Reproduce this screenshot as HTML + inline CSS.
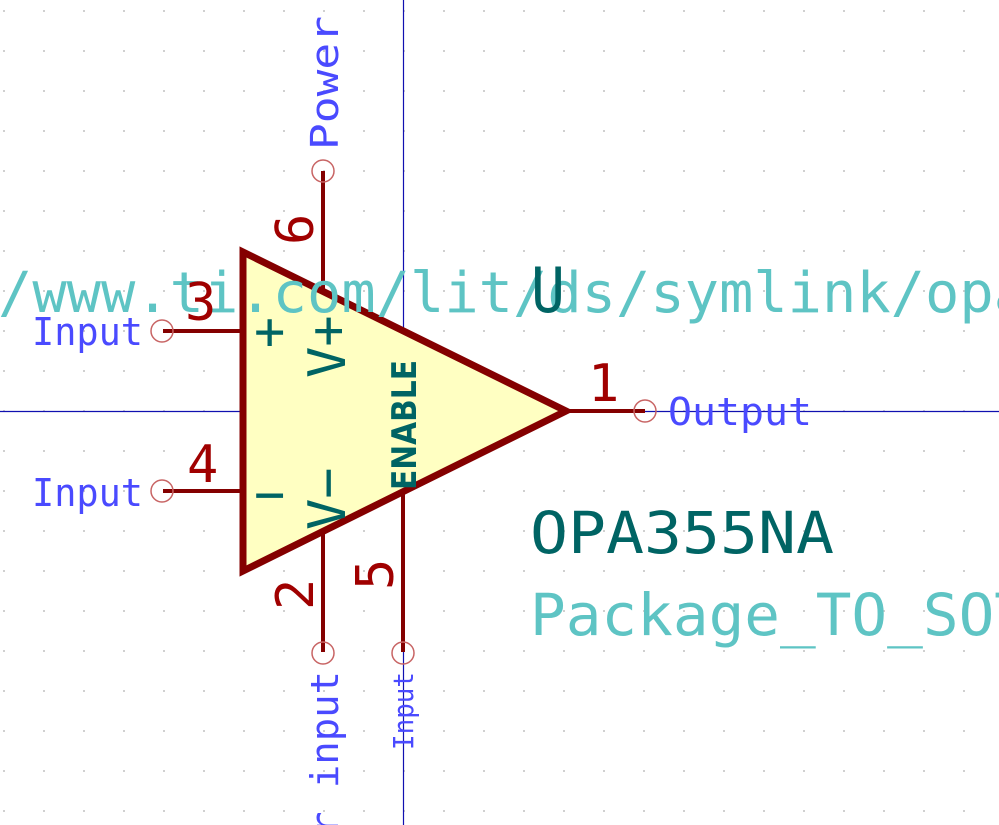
<!DOCTYPE html>
<html><head><meta charset="utf-8"><style>html,body{margin:0;padding:0;background:#fff}svg{display:block}</style></head>
<body>
<svg width="999" height="825" viewBox="0 0 999 825" xmlns="http://www.w3.org/2000/svg">
<defs><pattern id="g" x="3" y="10" width="40" height="40" patternUnits="userSpaceOnUse"><rect x="0" y="0" width="2" height="2" fill="#d0d0d0"/></pattern></defs>
<rect width="999" height="825" fill="url(#g)"/>
<line x1="403.5" y1="0" x2="403.5" y2="825" stroke="#1010b0" stroke-width="1.2"/>
<line x1="0" y1="411.5" x2="999" y2="411.5" stroke="#1010b0" stroke-width="1.2"/>
<polygon points="243,252 243,571 566,411" fill="#ffffc2" stroke="#840000" stroke-width="7" stroke-linejoin="miter"/>
<g stroke="#840000" stroke-width="4" fill="none">
<line x1="163" y1="331" x2="243" y2="331"/>
<line x1="163" y1="491" x2="243" y2="491"/>
<line x1="566" y1="411" x2="645" y2="411"/>
<line x1="323" y1="171" x2="323" y2="292"/>
<line x1="323" y1="531" x2="323" y2="652"/>
<line x1="403" y1="491" x2="403" y2="652"/>
</g>
<g stroke="#c86464" stroke-width="1.5" fill="none">
<circle cx="162" cy="331" r="11"/><circle cx="162" cy="491" r="11"/>
<circle cx="645" cy="411" r="11"/><circle cx="323" cy="171" r="11"/>
<circle cx="323" cy="653" r="11"/><circle cx="403" cy="653" r="11"/>
</g>
<g font-family="DejaVu Sans Mono, Liberation Mono, monospace">
<text x="-2" y="312" font-size="56" fill="#5ec4c4" textLength="1030" lengthAdjust="spacingAndGlyphs">/www.ti.com/lit/ds/symlink/opa</text>
<text x="531" y="312" font-size="62" fill="#006464" textLength="34" lengthAdjust="spacingAndGlyphs">U</text>
<text x="530" y="553" font-size="58" fill="#006464" textLength="304" lengthAdjust="spacingAndGlyphs">OPA355NA</text>
<text x="530" y="635" font-size="58" fill="#5ec4c4" textLength="500" lengthAdjust="spacingAndGlyphs">Package_TO_SOT</text>
<g fill="#4a4aff" font-size="38">
<text x="32" y="345" textLength="111" lengthAdjust="spacingAndGlyphs">Input</text>
<text x="32" y="506" textLength="111" lengthAdjust="spacingAndGlyphs">Input</text>
<text x="668" y="425" textLength="144" lengthAdjust="spacingAndGlyphs">Output</text>
<text transform="translate(338,150) rotate(-90)" textLength="134" lengthAdjust="spacingAndGlyphs">Power</text>
<text transform="translate(338,835) rotate(-90)" textLength="164" lengthAdjust="spacingAndGlyphs">r input</text>
<text transform="translate(413,750) rotate(-90)" font-size="28" textLength="78" lengthAdjust="spacingAndGlyphs">Input</text>
</g>
<g fill="#a00000" font-size="52">
<text x="185" y="320">3</text>
<text x="187" y="482">4</text>
<text x="588" y="401">1</text>
<text transform="translate(313,245) rotate(-90)">6</text>
<text transform="translate(313,610) rotate(-90)">2</text>
<text transform="translate(393,590) rotate(-90)">5</text>
</g>
<g fill="#006464" font-size="52">
<text x="254" y="349">+</text>
<text x="254" y="512">−</text>
<text transform="translate(345,378) rotate(-90)">V+</text>
<text transform="translate(345,530) rotate(-90)">V−</text>
<text transform="translate(416,490) rotate(-90)" font-family="DejaVu Sans, sans-serif" font-weight="bold" font-size="34" textLength="130" lengthAdjust="spacingAndGlyphs">ENABLE</text>
</g>
</g>
</svg>
</body></html>
